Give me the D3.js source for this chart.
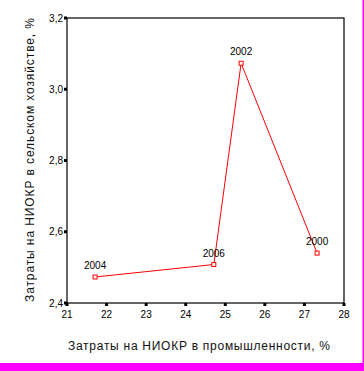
<!DOCTYPE html>
<html><head><meta charset="utf-8">
<script src="https://cdn.jsdelivr.net/npm/d3@7"></script>
<style>body{margin:0;background:#fff}svg{display:block}</style>
</head><body>
<script>
const years = ["2004", "2006", "2002", "2000"];
const industry = [21.71, 24.71, 25.40, 27.32];
const agriculture = [2.473, 2.508, 3.073, 2.540];
const xTicks = [21, 22, 23, 24, 25, 26, 27, 28];
const yTicks = [2.4, 2.6, 2.8, 3.0, 3.2];
const xTitle = "Затраты на НИОКР в промышленности, %";
const yTitle = "Затраты на НИОКР в сельском хозяйстве, %";

const W = 364, H = 371;
const font = "'Liberation Sans', Arial, sans-serif";
const svg = d3.select("body").append("svg").attr("width", W).attr("height", H);
svg.append("rect").attr("width", W).attr("height", H).attr("fill", "#fff");

const x = d3.scaleLinear().domain([21, 28]).range([67, 344]);
const y = d3.scaleLinear().domain([2.4, 3.2]).range([303, 18]);

// frame
svg.append("rect").attr("x", x(21)).attr("y", y(3.2))
  .attr("width", x(28) - x(21)).attr("height", y(2.4) - y(3.2))
  .attr("fill", "none").attr("stroke", "#000").attr("stroke-width", 1.2);

// x ticks
svg.selectAll(".xt").data(xTicks).enter().append("rect")
  .attr("x", d => x(d) - 1.5).attr("y", y(2.4)).attr("width", 3).attr("height", 3).attr("fill", "#000");
svg.selectAll(".xl").data(xTicks).enter().append("text")
  .attr("x", d => x(d)).attr("y", 318).attr("text-anchor", "middle")
  .attr("font-family", font).attr("font-size", 10).attr("fill", "#000").text(d => d);

// y ticks
svg.selectAll(".yt").data(yTicks).enter().append("rect")
  .attr("x", x(21) - 3).attr("y", d => y(d) - 1.5).attr("width", 3).attr("height", 3).attr("fill", "#000");
svg.selectAll(".yl").data(yTicks).enter().append("text")
  .attr("x", 63).attr("y", d => y(d) + 3.5).attr("text-anchor", "end")
  .attr("font-family", font).attr("font-size", 10).attr("fill", "#000")
  .text(d => d3.format(".1f")(d).replace(".", ","));

// titles
svg.append("text").attr("x", 199).attr("y", 350).attr("text-anchor", "middle")
  .attr("font-family", font).attr("font-size", 12).attr("fill", "#111")
  .attr("textLength", 262).attr("lengthAdjust", "spacing").text(xTitle);
svg.append("text").attr("transform", "translate(34,160) rotate(-90)").attr("text-anchor", "middle")
  .attr("font-family", font).attr("font-size", 12).attr("fill", "#111")
  .attr("textLength", 284).attr("lengthAdjust", "spacing").text(yTitle);

// data
const pts = years.map((yr, i) => ({yr, xv: industry[i], yv: agriculture[i]}));
svg.append("path").datum(pts)
  .attr("d", d3.line().x(d => x(d.xv)).y(d => y(d.yv)))
  .attr("fill", "none").attr("stroke", "#ff0000").attr("stroke-width", 1);
svg.selectAll(".pt").data(pts).enter().append("rect")
  .attr("x", d => x(d.xv) - 2).attr("y", d => y(d.yv) - 2).attr("width", 4).attr("height", 4)
  .attr("fill", "#fff").attr("stroke", "#ff0000").attr("stroke-width", 1);
svg.selectAll(".pl").data(pts).enter().append("text")
  .attr("x", d => x(d.xv)).attr("y", d => y(d.yv) - 8).attr("text-anchor", "middle")
  .attr("font-family", font).attr("font-size", 10).attr("fill", "#000").text(d => d.yr);

// magenta border
svg.append("rect").attr("x", 0).attr("y", 363).attr("width", W).attr("height", 8).attr("fill", "#ff00ff");
svg.append("rect").attr("x", 362.5).attr("y", 0).attr("width", 1.5).attr("height", H).attr("fill", "#ff00ff");
</script>
</body></html>
